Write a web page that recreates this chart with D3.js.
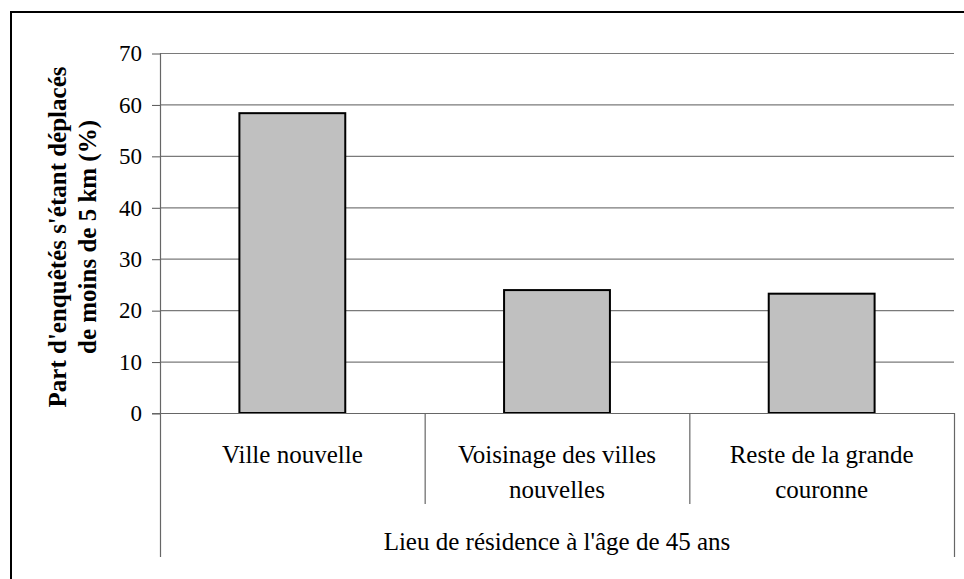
<!DOCTYPE html>
<html>
<head>
<meta charset="utf-8">
<script src="https://cdn.jsdelivr.net/npm/d3@7"></script>
<style>
  body { margin: 0; background: #fff; }
</style>
</head>
<body>
<svg id="chart" width="964" height="579"></svg>
<script>
// data
const categories = [['Ville nouvelle'], ['Voisinage des villes', 'nouvelles'], ['Reste de la grande', 'couronne']]
const values = [58.3, 23.9, 23.2]
const yTicks = [0, 10, 20, 30, 40, 50, 60, 70]
const yTitle = ["Part d'enquêtés s'étant déplacés", 'de moins de 5 km (%)']
const xTitle = "Lieu de résidence à l'âge de 45 ans"

const serif = "'Liberation Serif', 'Times New Roman', serif"

const margin = { top: 53, left: 160 }
const plotW = 794
const plotH = 360

const svg = d3.select('#chart')
  .style('font-family', serif)

// outer frame (cut off at right and bottom)
svg.append('rect')
  .attr('x', 11).attr('y', 12)
  .attr('width', 1000).attr('height', 1000)
  .attr('fill', 'none')
  .attr('stroke', '#000')
  .attr('stroke-width', 2)

const g = svg.append('g')
  .attr('transform', 'translate(' + margin.left + ',' + margin.top + ')')

/// scales
const xScale = d3.scaleBand()
  .domain(d3.range(categories.length))
  .range([0, plotW])

const yScale = d3.scaleLinear().domain([0, 70]).range([plotH, 0])

// gridlines
g.append('g')
  .selectAll('line')
  .data(yTicks.filter(d => d > 0))
  .enter()
  .append('line')
  .attr('x1', 0).attr('x2', plotW)
  .attr('y1', d => yScale(d) + 0.5).attr('y2', d => yScale(d) + 0.5)
  .attr('stroke', '#7a7a7a')
  .attr('stroke-width', 1.2)

// y axis
const yAxis = g.append('g')
  .call(d3.axisLeft(yScale).tickValues(yTicks).tickSize(8).tickPadding(10))
yAxis.attr('font-family', null).attr('font-size', null)
yAxis.select('.domain').remove()
yAxis.selectAll('.tick line').attr('stroke', '#555').attr('transform', 'translate(0,0.5)')
yAxis.selectAll('.tick text')
  .style('font-family', serif)
  .style('font-size', '23px')
  .attr('fill', '#000')
  .attr('dy', '0.34em')

// bars
g.append('g')
  .selectAll('rect')
  .data(values)
  .enter()
  .append('rect')
  .attr('x', (d, i) => xScale(i) + xScale.bandwidth() * 0.3)
  .attr('width', xScale.bandwidth() * 0.4)
  .attr('y', d => yScale(d))
  .attr('height', d => yScale(0) - yScale(d))
  .attr('fill', '#c0c0c0')
  .attr('stroke', '#000')
  .attr('stroke-width', 2)

// baseline and outer vertical lines
g.append('line')
  .attr('x1', -8).attr('x2', plotW)
  .attr('y1', yScale(0) + 0.5).attr('y2', yScale(0) + 0.5)
  .attr('stroke', '#666').attr('stroke-width', 1.2)

g.append('line')
  .attr('x1', 0.5).attr('x2', 0.5)
  .attr('y1', yScale(70)).attr('y2', yScale(0) + 144)
  .attr('stroke', '#666').attr('stroke-width', 1.2)

g.append('line')
  .attr('x1', plotW + 0.5).attr('x2', plotW + 0.5)
  .attr('y1', yScale(0)).attr('y2', yScale(0) + 144)
  .attr('stroke', '#666').attr('stroke-width', 1.2)

// category dividers
g.append('g')
  .selectAll('line')
  .data(d3.range(1, categories.length))
  .enter()
  .append('line')
  .attr('x1', i => xScale(i) + 0.5).attr('x2', i => xScale(i) + 0.5)
  .attr('y1', yScale(0)).attr('y2', yScale(0) + 91)
  .attr('stroke', '#666').attr('stroke-width', 1.2)

// category labels
categories.forEach((lines, i) => {
  const t = g.append('text')
    .attr('text-anchor', 'middle')
    .style('font-family', serif)
    .style('font-size', '25px')
    .attr('fill', '#000')
  lines.forEach((l, j) => {
    t.append('tspan')
      .attr('x', xScale(i) + xScale.bandwidth() / 2)
      .attr('y', yScale(0) + 50 + j * 35)
      .text(l)
  })
})

// x title
g.append('text')
  .attr('x', plotW / 2)
  .attr('y', yScale(0) + 137)
  .attr('text-anchor', 'middle')
  .style('font-family', serif)
  .style('font-size', '25px')
  .attr('fill', '#000')
  .text(xTitle)

// y title
const yt = svg.append('text')
  .attr('transform', 'translate(58,237) rotate(-90)')
  .attr('text-anchor', 'middle')
  .style('font-family', serif)
  .style('font-size', '25px')
  .style('font-weight', 'bold')
  .attr('fill', '#000')
yTitle.forEach((l, j) => {
  yt.append('tspan')
    .attr('x', 0)
    .attr('y', j * 30 + 8)
    .text(l)
})
</script>
</body>
</html>
